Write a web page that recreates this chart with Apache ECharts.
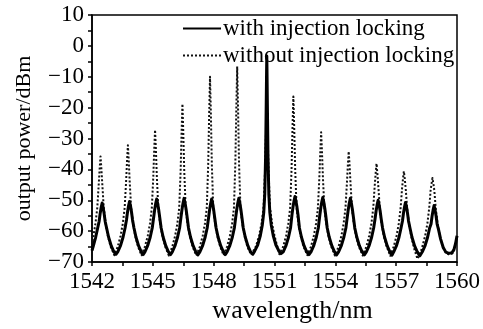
<!DOCTYPE html>
<html>
<head>
<meta charset="utf-8">
<script src="https://cdn.jsdelivr.net/npm/echarts@6/dist/echarts.min.js"></script>
<style>
html,body{margin:0;padding:0;background:#fff;}
#chart{width:483px;height:329px;}
</style>
</head>
<body>
<div id="chart"></div>
<script>
// wavelength (nm), output power (dBm)
const withLocking = [
[1542.00,-66.3],[1542.05,-65.2],[1542.18,-62.0],[1542.28,-59.0],[1542.35,-56.9],[1542.40,-54.4],[1542.45,-52.4],[1542.50,-50.9],[1542.55,-52.4],[1542.60,-54.4],[1542.65,-56.9],[1542.72,-59.0],[1542.82,-62.0],[1542.95,-64.8],[1543.08,-66.7],
[1543.18,-67.5],
[1543.27,-66.7],[1543.40,-64.8],[1543.53,-62.0],[1543.63,-59.0],[1543.70,-56.4],[1543.75,-53.9],[1543.80,-51.9],[1543.85,-50.4],[1543.90,-51.9],[1543.95,-53.9],[1544.00,-56.4],[1544.07,-59.0],[1544.17,-62.0],[1544.30,-64.8],[1544.43,-66.7],
[1544.52,-67.6],
[1544.61,-66.7],[1544.74,-64.8],[1544.87,-62.0],[1544.97,-59.0],[1545.04,-55.6],[1545.09,-53.1],[1545.14,-51.1],[1545.19,-49.6],[1545.24,-51.1],[1545.29,-53.1],[1545.34,-55.6],[1545.41,-59.0],[1545.51,-62.0],[1545.64,-64.8],[1545.77,-66.7],
[1545.87,-67.6],
[1545.96,-66.7],[1546.09,-64.8],[1546.22,-62.0],[1546.32,-59.0],[1546.39,-55.4],[1546.44,-52.9],[1546.49,-50.9],[1546.54,-49.4],[1546.59,-50.9],[1546.64,-52.9],[1546.69,-55.4],[1546.76,-59.0],[1546.86,-62.0],[1546.99,-64.8],[1547.12,-66.7],
[1547.22,-67.7],
[1547.32,-66.7],[1547.45,-64.8],[1547.58,-62.0],[1547.68,-59.0],[1547.75,-55.6],[1547.80,-53.1],[1547.85,-51.1],[1547.90,-49.6],[1547.95,-51.1],[1548.00,-53.1],[1548.05,-55.6],[1548.12,-59.0],[1548.22,-62.0],[1548.35,-64.8],[1548.48,-66.7],
[1548.57,-67.6],
[1548.66,-66.7],[1548.79,-64.8],[1548.92,-62.0],[1549.02,-59.0],[1549.09,-55.4],[1549.14,-52.9],[1549.19,-50.9],[1549.24,-49.4],[1549.29,-50.9],[1549.34,-52.9],[1549.39,-55.4],[1549.46,-59.0],[1549.56,-62.0],[1549.69,-64.8],[1549.82,-66.7],
[1549.93,-67.5],
[1550.02,-66.5],[1550.17,-64.5],[1550.30,-61.5],[1550.40,-58.0],[1550.47,-54.0],[1550.52,-48.0],[1550.56,-36.0],[1550.59,-20.0],[1550.61,-8.0],[1550.62,-3.3],[1550.63,-8.0],[1550.65,-20.0],[1550.68,-36.0],[1550.72,-48.0],[1550.77,-54.0],[1550.84,-58.0],[1550.94,-61.5],[1551.07,-64.5],[1551.22,-66.5],
[1551.32,-67.3],
[1551.43,-66.7],[1551.56,-64.8],[1551.69,-62.0],[1551.79,-59.0],[1551.86,-54.8],[1551.91,-52.3],[1551.96,-50.3],[1552.01,-48.8],[1552.06,-50.3],[1552.11,-52.3],[1552.16,-54.8],[1552.23,-59.0],[1552.33,-62.0],[1552.46,-64.8],[1552.59,-66.7],
[1552.70,-67.6],
[1552.80,-66.7],[1552.93,-64.8],[1553.06,-62.0],[1553.16,-59.0],[1553.23,-55.1],[1553.28,-52.6],[1553.33,-50.6],[1553.38,-49.1],[1553.43,-50.6],[1553.48,-52.6],[1553.53,-55.1],[1553.60,-59.0],[1553.70,-62.0],[1553.83,-64.8],[1553.96,-66.7],
[1554.06,-67.7],
[1554.16,-66.7],[1554.29,-64.8],[1554.42,-62.0],[1554.52,-59.0],[1554.59,-55.4],[1554.64,-52.9],[1554.69,-50.9],[1554.74,-49.4],[1554.79,-50.9],[1554.84,-52.9],[1554.89,-55.4],[1554.96,-59.0],[1555.06,-62.0],[1555.19,-64.8],[1555.32,-66.7],
[1555.43,-67.7],
[1555.53,-66.7],[1555.66,-64.8],[1555.79,-62.0],[1555.89,-59.0],[1555.96,-56.0],[1556.01,-53.5],[1556.06,-51.5],[1556.11,-50.0],[1556.16,-51.5],[1556.21,-53.5],[1556.26,-56.0],[1556.33,-59.0],[1556.43,-62.0],[1556.56,-64.8],[1556.69,-66.7],
[1556.79,-67.8],
[1556.88,-66.7],[1557.01,-64.8],[1557.14,-62.0],[1557.24,-59.0],[1557.31,-56.7],[1557.36,-54.2],[1557.41,-52.2],[1557.46,-50.7],[1557.51,-52.2],[1557.56,-54.2],[1557.61,-56.7],[1557.68,-59.0],[1557.78,-62.0],[1557.91,-64.8],[1558.04,-66.7],
[1558.17,-68.0],
[1558.29,-66.7],[1558.42,-64.8],[1558.55,-62.0],[1558.65,-59.0],[1558.72,-57.7],[1558.77,-55.2],[1558.82,-53.2],[1558.87,-51.7],[1558.92,-53.2],[1558.97,-55.2],[1559.02,-57.7],[1559.09,-59.5],[1559.19,-62.5],[1559.32,-65.3],[1559.45,-66.8],
[1559.60,-67.2],[1559.75,-67.0],[1559.85,-66.0],[1559.93,-64.0],[1560.00,-61.5]
];

const withoutLocking = [
[1542.00,-64.5],[1542.06,-62.0],[1542.17,-57.5],[1542.26,-52.5],[1542.33,-45.0],[1542.38,-39.5],[1542.42,-35.8],[1542.46,-39.5],[1542.51,-45.0],[1542.58,-52.5],[1542.67,-57.5],[1542.78,-61.5],[1542.92,-65.0],
[1543.10,-67.8],
[1543.27,-65.0],[1543.41,-61.5],[1543.52,-57.5],[1543.61,-52.5],[1543.68,-44.1],[1543.73,-36.9],[1543.77,-32.2],[1543.81,-36.9],[1543.86,-44.1],[1543.93,-52.5],[1544.02,-57.5],[1544.13,-61.5],[1544.27,-65.0],
[1544.44,-67.8],
[1544.61,-65.0],[1544.75,-61.5],[1544.86,-57.5],[1544.95,-52.5],[1545.02,-42.8],[1545.07,-33.4],[1545.11,-27.2],[1545.15,-33.4],[1545.20,-42.8],[1545.27,-52.5],[1545.36,-57.5],[1545.47,-61.5],[1545.61,-65.0],
[1545.79,-67.9],
[1545.96,-65.0],[1546.10,-61.5],[1546.21,-57.5],[1546.30,-52.5],[1546.37,-40.7],[1546.42,-27.6],[1546.46,-18.8],[1546.50,-27.6],[1546.55,-40.7],[1546.62,-52.5],[1546.71,-57.5],[1546.82,-61.5],[1546.96,-65.0],
[1547.14,-67.9],
[1547.32,-65.0],[1547.46,-61.5],[1547.57,-57.5],[1547.66,-52.5],[1547.73,-38.5],[1547.78,-21.4],[1547.82,-10.0],[1547.86,-21.4],[1547.91,-38.5],[1547.98,-52.5],[1548.07,-57.5],[1548.18,-61.5],[1548.32,-65.0],
[1548.49,-67.8],
[1548.66,-65.0],[1548.80,-61.5],[1548.91,-57.5],[1549.00,-52.5],[1549.07,-37.7],[1549.12,-19.1],[1549.16,-6.7],[1549.20,-19.1],[1549.25,-37.7],[1549.32,-52.5],[1549.41,-57.5],[1549.52,-61.5],[1549.66,-65.0],
[1549.85,-67.7],
[1550.08,-65.0],[1550.24,-61.5],[1550.36,-57.5],[1550.46,-52.5],[1550.53,-41.0],[1550.58,-28.4],[1550.62,-20.0],[1550.66,-28.4],[1550.71,-41.0],[1550.78,-52.5],[1550.88,-57.5],[1551.00,-61.5],[1551.14,-65.0],
[1551.24,-67.5],
[1551.43,-65.0],[1551.57,-61.5],[1551.68,-57.5],[1551.77,-52.5],[1551.84,-40.1],[1551.89,-25.9],[1551.93,-16.4],[1551.97,-25.9],[1552.02,-40.1],[1552.09,-52.5],[1552.18,-57.5],[1552.29,-61.5],[1552.43,-65.0],
[1552.62,-67.8],
[1552.80,-65.0],[1552.94,-61.5],[1553.05,-57.5],[1553.14,-52.5],[1553.21,-43.0],[1553.26,-34.0],[1553.30,-28.0],[1553.34,-34.0],[1553.39,-43.0],[1553.46,-52.5],[1553.55,-57.5],[1553.66,-61.5],[1553.80,-65.0],
[1553.98,-67.9],
[1554.16,-65.0],[1554.30,-61.5],[1554.41,-57.5],[1554.50,-52.5],[1554.57,-44.6],[1554.62,-38.3],[1554.66,-34.2],[1554.70,-38.3],[1554.75,-44.6],[1554.82,-52.5],[1554.91,-57.5],[1555.02,-61.5],[1555.16,-65.0],
[1555.35,-67.9],
[1555.53,-65.0],[1555.67,-61.5],[1555.78,-57.5],[1555.87,-52.5],[1555.94,-45.5],[1555.99,-41.1],[1556.03,-38.1],[1556.07,-41.1],[1556.12,-45.5],[1556.19,-52.5],[1556.28,-57.5],[1556.39,-61.5],[1556.53,-65.0],
[1556.71,-68.0],
[1556.88,-65.0],[1557.02,-61.5],[1557.13,-57.5],[1557.22,-52.5],[1557.29,-46.2],[1557.34,-42.8],[1557.38,-40.6],[1557.42,-42.8],[1557.47,-46.2],[1557.54,-52.5],[1557.63,-57.5],[1557.74,-61.5],[1557.88,-65.5],
[1558.05,-69.0],
[1558.25,-66.0],[1558.43,-61.5],[1558.54,-57.5],[1558.63,-52.5],[1558.70,-46.7],[1558.75,-44.4],[1558.79,-42.8],[1558.83,-44.4],[1558.88,-46.7],[1558.95,-52.5],[1559.04,-57.5],[1559.15,-61.5],[1559.29,-65.0],
[1559.45,-67.0],[1559.62,-67.6],[1559.78,-67.2],[1559.90,-65.0],[1560.00,-62.0]
];

const seriesNames = ['with injection locking', 'without injection locking'];
const xRange = [1542, 1560, 3];
const yRange = [-70, 10, 10];
const xTitle = 'wavelength/nm';
const yTitle = 'output power/dBm';

const FONT = '"Liberation Serif", "Times New Roman", serif';
const chart = echarts.init(document.getElementById('chart'), null, {renderer: 'canvas'});
chart.setOption({
  animation: false,
  backgroundColor: '#fff',
  grid: {left: 92, right: 21, top: 15, bottom: 55, show: true, borderColor: '#000', borderWidth: 1.5, backgroundColor: 'transparent'},
  legend: {
    data: seriesNames,
    orient: 'vertical',
    left: 177, top: 12,
    itemWidth: 38, itemHeight: 14, itemGap: 4,
    itemStyle: {opacity: 0},
    textStyle: {fontFamily: FONT, fontSize: 23, color: '#000', padding: [0,0,0,-3]},
    inactiveColor: '#000'
  },
  xAxis: {
    type: 'value', min: xRange[0], max: xRange[1], interval: xRange[2],
    name: xTitle, nameLocation: 'middle', nameGap: 36,
    nameTextStyle: {fontFamily: FONT, fontSize: 26, color: '#000', padding: [0,0,0,36]},
    axisLine: {show: true, onZero: false, lineStyle: {color: '#000', width: 1.5}},
    axisTick: {show: true, inside: false, length: 4, lineStyle: {color: '#000', width: 1.5}},
    minorTick: {show: true, splitNumber: 2, length: 4, lineStyle: {color: '#000', width: 1.5}},
    axisLabel: {fontFamily: FONT, fontSize: 23, color: '#000', margin: 8, formatter: v => String(v)},
    splitLine: {show: false}
  },
  yAxis: {
    type: 'value', min: yRange[0], max: yRange[1], interval: yRange[2],
    name: yTitle, nameLocation: 'middle', nameGap: 57,
    nameTextStyle: {fontFamily: FONT, fontSize: 22, color: '#000'},
    axisLine: {show: true, onZero: false, lineStyle: {color: '#000', width: 1.5}},
    axisTick: {show: true, inside: false, length: 4, lineStyle: {color: '#000', width: 1.5}},
    minorTick: {show: true, splitNumber: 2, length: 4, lineStyle: {color: '#000', width: 1.5}},
    axisLabel: {fontFamily: FONT, fontSize: 23, color: '#000', margin: 8,
      formatter: v => String(v).replace('-', '\u2212')},
    splitLine: {show: false}
  },
  series: [
    {
      name: seriesNames[1], type: 'line', data: withoutLocking, symbol: 'none', z: 2,
      lineStyle: {color: '#111', width: 2, type: [2, 2], join: 'round'},
      itemStyle: {color: '#111'}
    },
    {
      name: seriesNames[0], type: 'line', data: withLocking, symbol: 'none', z: 3,
      lineStyle: {color: '#000', width: 3, type: 'solid', join: 'round'},
      itemStyle: {color: '#000'}
    }
  ]
});
</script>
</body>
</html>
